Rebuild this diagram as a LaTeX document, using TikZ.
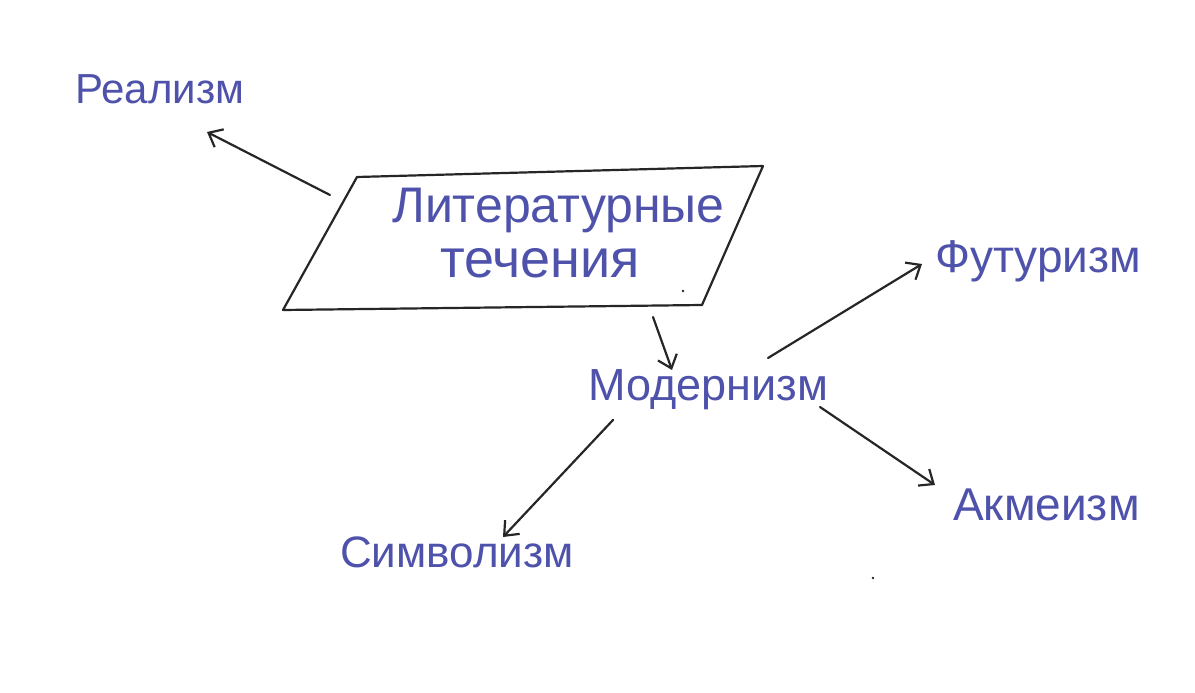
\documentclass[tikz,border=0pt]{standalone}
\usepackage{fontspec}
\setmainfont{Liberation Sans}
\usetikzlibrary{arrows.meta}
\definecolor{ink}{RGB}{78,82,170}
\definecolor{pen}{RGB}{38,38,38}
\begin{document}
\begin{tikzpicture}[x=1pt,y=-1pt,
  hand/.style={text=ink, inner sep=0pt, anchor=base west},
  arr/.style={draw=pen, line width=2.2pt, line cap=round, -{Straight Barb[length=12pt,width=20pt,line width=2.2pt]}},
  boxline/.style={draw=pen, line width=2.2pt, line join=round}]
\fill[white] (0,0) rectangle (1195,693);
\useasboundingbox (0,0) rectangle (1195,693);
% parallelogram
\draw[boxline] (357,177) -- (763,166) -- (702,305) -- (283,310) -- cycle;
% texts
\node[hand] (lit1) at (392,222) {\fontsize{50}{60}\selectfont Литературные};
\node[hand] (lit2) at (440,277) {\fontsize{54}{65}\selectfont течения};
\node[hand] (real) at (75,103) {\fontsize{42}{50}\selectfont Реализм};
\node[hand] (mod) at (588,400) {\fontsize{45}{54}\selectfont Модернизм};
\node[hand] (fut) at (935,272) {\fontsize{46}{55}\selectfont Футуризм};
\node[hand] (akm) at (953,520) {\fontsize{46}{55}\selectfont Акмеизм};
\node[hand] (sym) at (340,567) {\fontsize{44}{53}\selectfont Символизм};
% connector ends
\coordinate (litW) at (330,195);
\coordinate (realT) at (207,132);
\coordinate (litS) at (653,317);
\coordinate (modN) at (672,370);
\coordinate (modNE) at (768,358);
\coordinate (futT) at (922,264);
\coordinate (modSE) at (820,407);
\coordinate (akmT) at (935,485);
\coordinate (modSW) at (613,420);
\coordinate (symT) at (503,537);
\draw[arr] (litW) -- (realT);
\draw[arr] (litS) -- (modN);
\draw[arr] (modNE) -- (futT);
\draw[arr] (modSE) -- (akmT);
\draw[arr] (modSW) -- (symT);
% specks
\fill[pen] (683,291) circle (1.4);
\fill[pen] (873,578) circle (1.4);
\end{tikzpicture}
\end{document}
